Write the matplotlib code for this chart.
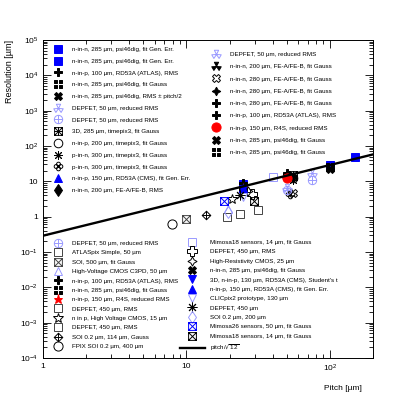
import numpy as np
import matplotlib.pyplot as plt
from matplotlib.path import Path
from matplotlib.ticker import FixedLocator, LogLocator, FuncFormatter, NullFormatter

plt.rcParams['font.family'] = ['Liberation Sans', 'DejaVu Sans']
plt.rcParams['mathtext.default'] = 'regular'

# ---- data (pitch [um], resolution [um]) ----
# upper left legend
psi_gen_a_x, psi_gen_a_y = [100, 150], [29, 50]
psi_gen_b_x, psi_gen_b_y = [25], [8.2]
atlas_rms_a_x, atlas_rms_a_y = [50], [16.8]
psi_gauss_a_x, psi_gauss_a_y = [25], [7.0]
psi_rms_x, psi_rms_y = [100], [22]
depfet50_a_x, depfet50_a_y = [75], [16.8]
depfet50_b_x, depfet50_b_y = [75], [10.9]
tpx_3d_x, tpx_3d_y = [55], [15]
tpx_nip_x, tpx_nip_y = [55], [12.5]
tpx_pin_a_x, tpx_pin_a_y = [55], [11]
tpx_pin_b_x, tpx_pin_b_y = [53], [4.4]
cms_gen_a_x, cms_gen_a_y = [25], [6.5]
fe_rms_x, fe_rms_y = [50], [14.5]
# upper right legend
depfet50_c_x, depfet50_c_y = [50], [6.5]
fe200_x, fe200_y = [50], [13]
fe280_a_x, fe280_a_y = [55], [4.8]
fe280_b_x, fe280_b_y = [55], [14]
fe280_c_x, fe280_c_y = [50], [15]
atlas_rms_b_x, atlas_rms_b_y = [25], [8.6]
r4s_a_x, r4s_a_y = [50], [12.2]
psi_gauss_b_x, psi_gauss_b_y = [25], [7.4]
psi_gauss_c_x, psi_gauss_c_y = [100], [25]
# lower left legend
depfet50_d_x, depfet50_d_y = [50], [5.7]
atlaspix_x, atlaspix_y = [31.7], [1.55]
soi500_x, soi500_y = [10], [0.84]
c3pd_x, c3pd_y = [19.6], [1.6]
atlas_rms_c_x, atlas_rms_c_y = [25], [8.9]
psi_gauss_d_x, psi_gauss_d_y = [25], [7.0]
r4s_b_x, r4s_b_y = [25], [6.6]
depfet450_a_x, depfet450_a_y = [19.1], [0.96]
hvcmos_x, hvcmos_y = [20.9], [3.1]
depfet450_b_x, depfet450_b_y = [23.6], [1.19]
soi114_x, soi114_y = [13.75], [1.12]
fpix_x, fpix_y = [7.9], [0.61]
# lower right legend
mimosa18_a_x, mimosa18_a_y = [40], [13]
depfet450_c_x, depfet450_c_y = [28.5], [4.4]
hrcmos_x, hrcmos_y = [27], [5.2]
psi_gauss_e_x, psi_gauss_e_y = [25], [7.4]
cms_3d_x, cms_3d_y = [25], [6.0]
cms_gen_b_x, cms_gen_b_y = [25], [6.5]
clicpix_x, clicpix_y = [25], [3.6]
depfet450_d_x, depfet450_d_y = [23.6], [4.1]
soi200_x, soi200_y = [19.6], [1.39]
mimosa26_x, mimosa26_y = [18.4], [2.84]
mimosa18_b_x, mimosa18_b_y = [29.7], [2.78]

line_x = np.array([1, 200])

# ---- custom ROOT-like markers ----
M, L, C = Path.MOVETO, Path.LINETO, Path.CLOSEPOLY

def poly(pts):
    return Path(pts + [pts[0]], [M] + [L] * (len(pts) - 1) + [C])

def seg(a, b):
    return Path([a, b], [M, L])

def rot(pts, ang):
    c, s = np.cos(ang), np.sin(ang)
    return [(c * x - s * y, s * x + c * y) for x, y in pts]

box = [(-1, -1), (1, -1), (1, 1), (-1, 1)]
m_sqx = Path.make_compound_path(poly(box), seg((-1, -1), (1, 1)), seg((-1, 1), (1, -1)))
m_sqstar = Path.make_compound_path(poly(box), seg((-1, -1), (1, 1)), seg((-1, 1), (1, -1)),
                                   seg((0, -1), (0, 1)), seg((-1, 0), (1, 0)))
m_circplus = Path.make_compound_path(Path.unit_circle(), seg((0, -1), (0, 1)), seg((-1, 0), (1, 0)))
m_diaplus = Path.make_compound_path(poly([(0, -1), (1, 0), (0, 1), (-1, 0)]),
                                    seg((0, -1), (0, 1)), seg((-1, 0), (1, 0)))
tri = [(0, 0), (-0.5, 1), (0.5, 1)]
m_tri3 = Path.make_compound_path(*[poly(rot(tri, a)) for a in (0, 2 * np.pi / 3, -2 * np.pi / 3)])
m_four = Path.make_compound_path(*[poly([(cx - .42, cy - .42), (cx + .42, cy - .42),
                                         (cx + .42, cy + .42), (cx - .42, cy + .42)])
                                   for cx in (-.55, .55) for cy in (-.55, .55)])
m_quat = Path.make_compound_path(*[Path.circle((x, y), 0.45) for x, y in
                                   [(0, .55), (0, -.55), (.55, 0), (-.55, 0)]])

blue = '#0000ff'
lblue = '#9999ff'
gray = '#444444'
red = '#ff0000'

# label, x, y, marker, color, filled, size
upper_left = [
    ('n-in-n, 285 µm, psi46dig, fit Gen. Err.', psi_gen_a_x, psi_gen_a_y, 's', blue, True, 6),
    ('n-in-n, 285 µm, psi46dig, fit Gen. Err.', psi_gen_b_x, psi_gen_b_y, 's', blue, True, 6),
    ('n-in-p, 100 µm, RD53A (ATLAS), RMS', atlas_rms_a_x, atlas_rms_a_y, 'P', 'black', True, 6),
    ('n-in-n, 285 µm, psi46dig, fit Gauss', psi_gauss_a_x, psi_gauss_a_y, m_four, 'black', True, 5.8),
    ('n-in-n, 285 µm, psi46dig, RMS ± pitch/2', psi_rms_x, psi_rms_y, 'X', 'black', True, 6),
    ('DEPFET, 50 µm, reduced RMS', depfet50_a_x, depfet50_a_y, m_tri3, lblue, False, 6.8),
    ('DEPFET, 50 µm, reduced RMS', depfet50_b_x, depfet50_b_y, m_circplus, lblue, False, 6),
    ('3D, 285 µm, timepix3, fit Gauss', tpx_3d_x, tpx_3d_y, m_sqstar, 'black', False, 5.6),
    ('n-in-p, 200 µm, timepix3, fit Gauss', tpx_nip_x, tpx_nip_y, 'o', 'black', False, 6.2),
    ('p-in-n, 300 µm, timepix3, fit Gauss', tpx_pin_a_x, tpx_pin_a_y, (8, 2, 0), 'black', False, 6.2),
    ('p-in-n, 300 µm, timepix3, fit Gauss', tpx_pin_b_x, tpx_pin_b_y, m_quat, 'black', False, 6.2),
    ('n-in-p, 150 µm, RD53A (CMS), fit Gen. Err.', cms_gen_a_x, cms_gen_a_y, '^', blue, True, 6),
    ('n-in-n, 200 µm, FE-A/FE-B, RMS', fe_rms_x, fe_rms_y, 'd', 'black', True, 6.2),
]
upper_right = [
    ('DEPFET, 50 µm, reduced RMS', depfet50_c_x, depfet50_c_y, m_tri3, lblue, False, 6.8),
    ('n-in-n, 200 µm, FE-A/FE-B, fit Gauss', fe200_x, fe200_y, m_tri3, 'black', True, 6.8),
    ('n-in-n, 280 µm, FE-A/FE-B, fit Gauss', fe280_a_x, fe280_a_y, 'X', 'black', False, 6),
    ('n-in-n, 280 µm, FE-A/FE-B, fit Gauss', fe280_b_x, fe280_b_y, (4, 1, 0), 'black', True, 6.2),
    ('n-in-n, 280 µm, FE-A/FE-B, fit Gauss', fe280_c_x, fe280_c_y, 'P', 'black', True, 5.4),
    ('n-in-p, 100 µm, RD53A (ATLAS), RMS', atlas_rms_b_x, atlas_rms_b_y, 'P', 'black', True, 6),
    ('n-in-p, 150 µm, R4S, reduced RMS', r4s_a_x, r4s_a_y, 'o', red, True, 6.6),
    ('n-in-n, 285 µm, psi46dig, fit Gauss', psi_gauss_b_x, psi_gauss_b_y, 'X', 'black', True, 6),
    ('n-in-n, 285 µm, psi46dig, fit Gauss', psi_gauss_c_x, psi_gauss_c_y, m_four, 'black', True, 5.8),
]
lower_left = [
    ('DEPFET, 50 µm, reduced RMS', depfet50_d_x, depfet50_d_y, m_circplus, lblue, False, 6),
    ('ATLASpix Simple, 50 µm', atlaspix_x, atlaspix_y, 's', gray, False, 6.2),
    ('SOI, 500 µm, fit Gauss', soi500_x, soi500_y, m_sqx, gray, False, 5.6),
    ('High-Voltage CMOS C3PD, 50 µm', c3pd_x, c3pd_y, '^', lblue, False, 6),
    ('n-in-p, 100 µm, RD53A (ATLAS), RMS', atlas_rms_c_x, atlas_rms_c_y, 'P', 'black', True, 6),
    ('n-in-n, 285 µm, psi46dig, fit Gauss', psi_gauss_d_x, psi_gauss_d_y, m_four, 'black', True, 5.8),
    ('n-in-p, 150 µm, R4S, reduced RMS', r4s_b_x, r4s_b_y, '*', red, True, 6.6),
    ('DEPFET, 450 µm, RMS', depfet450_a_x, depfet450_a_y, 's', gray, False, 6.2),
    ('n in p, High Voltage CMOS, 15 µm', hvcmos_x, hvcmos_y, '*', 'black', False, 7),
    ('DEPFET, 450 µm, RMS', depfet450_b_x, depfet450_b_y, 's', gray, False, 6.2),
    ('SOI 0.2 µm, 114 µm, Gauss', soi114_x, soi114_y, m_diaplus, 'black', False, 6.2),
    ('FPIX SOI 0.2 µm, 400 µm', fpix_x, fpix_y, 'o', 'black', False, 6.6),
]
lower_right = [
    ('Mimosa18 sensors, 14 µm, fit Gauss', mimosa18_a_x, mimosa18_a_y, 's', lblue, False, 6.2),
    ('DEPFET, 450 µm, RMS', depfet450_c_x, depfet450_c_y, 'P', 'black', False, 6.6),
    ('High-Resistivity CMOS, 25 µm', hrcmos_x, hrcmos_y, (4, 1, 0), 'black', False, 6.6),
    ('n-in-n, 285 µm, psi46dig, fit Gauss', psi_gauss_e_x, psi_gauss_e_y, 'X', 'black', True, 6),
    ("3D, n-in-p, 130 µm, RD53A (CMS), Student's t", cms_3d_x, cms_3d_y, 'v', blue, True, 6),
    ('n-in-p, 150 µm, RD53A (CMS), fit Gen. Err.', cms_gen_b_x, cms_gen_b_y, '^', blue, True, 6),
    ('CLICpix2 prototype, 130 µm', clicpix_x, clicpix_y, 'v', lblue, False, 6),
    ('DEPFET, 450 µm', depfet450_d_x, depfet450_d_y, (8, 2, 0), 'black', False, 7),
    ('SOI 0.2 µm, 200 µm', soi200_x, soi200_y, 'd', lblue, False, 6.2),
    ('Mimosa26 sensors, 50 µm, fit Gauss', mimosa26_x, mimosa26_y, m_sqx, blue, False, 5.6),
    ('Mimosa18 sensors, 14 µm, fit Gauss', mimosa18_b_x, mimosa18_b_y, m_sqx, 'black', False, 5.6),
]

fig = plt.figure(figsize=(4.15, 3.99), dpi=100)
ax = fig.add_axes([0.1036, 0.1028, 0.7952, 0.797])
ax.set_xscale('log')
ax.set_yscale('log')
ax.set_xlim(1, 200)
ax.set_ylim(1e-4, 1e5)

def draw(group):
    hs = []
    for lab, x, y, mk, col, filled, ms in group:
        h, = ax.plot(x, y, ls='none', marker=mk, ms=ms, mew=0.7, color=col,
                     mfc=col if filled else 'none', mec=col, label=lab, zorder=3)
        hs.append(h)
    return hs

h_ul = draw(upper_left)
h_ur = draw(upper_right)
h_ll = draw(lower_left)
h_lr = draw(lower_right)
h_line, = ax.plot(line_x, line_x / np.sqrt(12), color='black', lw=1.7, label='pitch/$\\sqrt{12}$', zorder=4)
h_lr.append(h_line)

common = dict(frameon=False, fontsize=4.5, borderpad=0, borderaxespad=0,
              handletextpad=1.24, handlelength=2, numpoints=1, loc='upper left')
leg1 = ax.legend(handles=h_ul, bbox_to_anchor=(0.028, 0.979), labelspacing=1.02, **common)
ax.add_artist(leg1)
leg2 = ax.legend(handles=h_ur, bbox_to_anchor=(0.505, 0.963), labelspacing=1.1, **common)
ax.add_artist(leg2)
leg3 = ax.legend(handles=h_ll, bbox_to_anchor=(0.028, 0.369), labelspacing=0.64, **common)
ax.add_artist(leg3)
c4 = dict(common, handlelength=4.0, handletextpad=0.8)
leg4 = ax.legend(handles=h_lr, bbox_to_anchor=(0.415, 0.372), labelspacing=0.64, **c4)

def fmt(v, pos):
    e = int(round(np.log10(v)))
    return {0: '1', 1: '10'}.get(e, '$10^{%d}$' % e)

ax.xaxis.set_major_locator(FixedLocator([1, 10, 100]))
ax.yaxis.set_major_locator(FixedLocator([10.0 ** e for e in range(-4, 6)]))
ax.xaxis.set_minor_locator(LogLocator(base=10, subs=np.arange(2, 10), numticks=100))
ax.yaxis.set_minor_locator(LogLocator(base=10, subs=np.arange(2, 10), numticks=100))
ax.xaxis.set_major_formatter(FuncFormatter(fmt))
ax.yaxis.set_major_formatter(FuncFormatter(fmt))
ax.xaxis.set_minor_formatter(NullFormatter())
ax.yaxis.set_minor_formatter(NullFormatter())
ax.tick_params(which='both', direction='in', top=True, right=True, width=0.6, labelsize=6)
ax.tick_params(which='major', length=6)
ax.tick_params(which='minor', length=3)
for s in ax.spines.values():
    s.set_linewidth(0.7)

ax.set_xlabel('Pitch [µm]', fontsize=6, loc='right')
ax.xaxis.set_label_coords(0.967, -0.085)
ax.set_ylabel('Resolution [µm]', fontsize=6.5, loc='top')
ax.yaxis.set_label_coords(-0.088, 1.0)

fig.savefig('out.png', dpi=100)
